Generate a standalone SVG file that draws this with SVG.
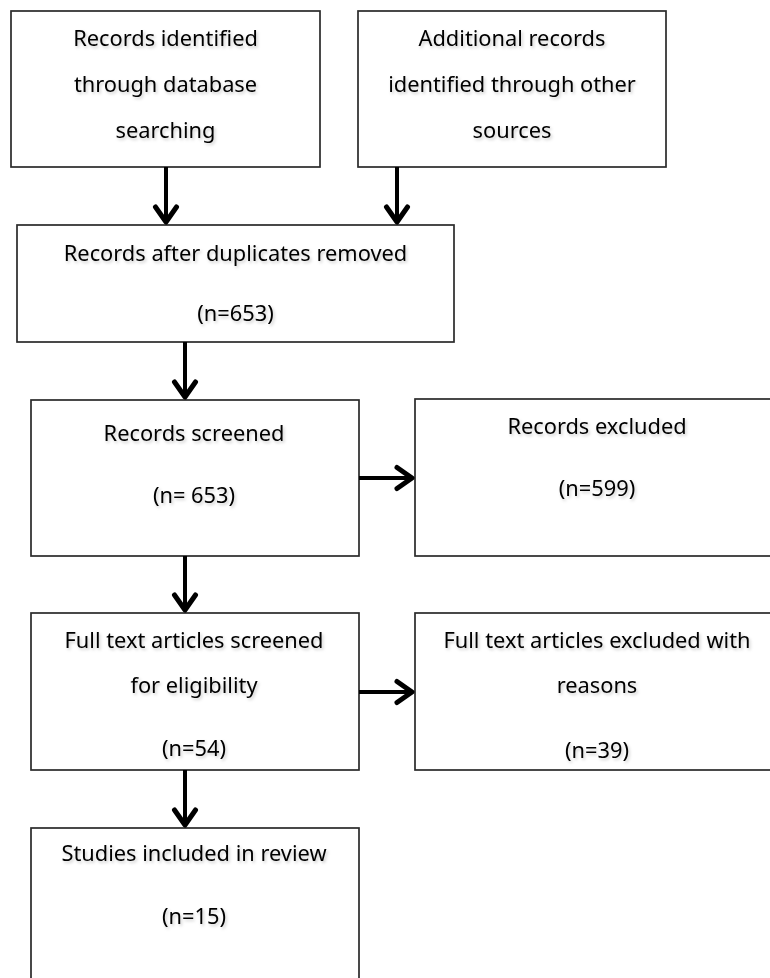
<svg xmlns="http://www.w3.org/2000/svg" width="770" height="978" viewBox="0 0 770 978">
  <style>
    .box { fill: #ffffff; stroke: #2a2a2a; stroke-width: 1.7; }
    .label { font-family: "Noto Sans", "Open Sans", "Liberation Sans", sans-serif; font-size: 21.8px; fill: #000000; text-anchor: middle; filter: url(#soft); }
    .flow { stroke: #000000; stroke-width: 4; fill: none; marker-end: url(#chevron); }
  </style>
  <defs>
    <!-- faint halo under the lettering -->
    <filter id="soft" x="-10%" y="-40%" width="120%" height="180%">
      <feDropShadow dx="1.5" dy="2" stdDeviation="1.4" flood-color="#000000" flood-opacity="0.2"/>
    </filter>
    <!-- open chevron arrowhead -->
    <marker id="chevron" markerUnits="userSpaceOnUse" markerWidth="32" markerHeight="32" viewBox="-22 -16 28 32" refX="0" refY="0" orient="auto">
      <path d="M-15,-10.5 L0,0 L-15,10.5" fill="none" stroke="#000000" stroke-width="5" stroke-linejoin="round" stroke-linecap="round"/>
    </marker>
  </defs>

  <rect width="770" height="978" fill="#ffffff"/>

  <g id="node-database">
    <rect class="box" x="11" y="11" width="309" height="156"/>
    <text class="label" x="165.5" y="46">Records identified</text>
    <text class="label" x="165.5" y="92">through database</text>
    <text class="label" x="165.5" y="138">searching</text>
  </g>

  <g id="node-other-sources">
    <rect class="box" x="358" y="11" width="308" height="156"/>
    <text class="label" x="512" y="46">Additional records</text>
    <text class="label" x="512" y="92">identified through other</text>
    <text class="label" x="512" y="138">sources</text>
  </g>

  <g id="node-deduplicated">
    <rect class="box" x="17" y="225" width="437" height="117"/>
    <text class="label" x="235.5" y="261">Records after duplicates removed</text>
    <text class="label" x="235.5" y="321">(n=653)</text>
  </g>

  <g id="node-screened">
    <rect class="box" x="31" y="400" width="328" height="156"/>
    <text class="label" x="194" y="441">Records screened</text>
    <text class="label" x="194" y="503">(n= 653)</text>
  </g>

  <g id="node-excluded">
    <rect class="box" x="415" y="399" width="364" height="157"/>
    <text class="label" x="597" y="434">Records excluded</text>
    <text class="label" x="597" y="496">(n=599)</text>
  </g>

  <g id="node-fulltext">
    <rect class="box" x="31" y="613" width="328" height="157"/>
    <text class="label" x="194" y="648">Full text articles screened</text>
    <text class="label" x="194" y="693">for eligibility</text>
    <text class="label" x="194" y="756">(n=54)</text>
  </g>

  <g id="node-fulltext-excluded">
    <rect class="box" x="415" y="613" width="364" height="157"/>
    <text class="label" x="597" y="648">Full text articles excluded with</text>
    <text class="label" x="597" y="693">reasons</text>
    <text class="label" x="597" y="758">(n=39)</text>
  </g>

  <g id="node-included">
    <rect class="box" x="31" y="828" width="328" height="170"/>
    <text class="label" x="194" y="861">Studies included in review</text>
    <text class="label" x="194" y="924">(n=15)</text>
  </g>

  <g id="connectors">
    <line class="flow" x1="166" y1="167" x2="166" y2="222"/>
    <line class="flow" x1="397" y1="167" x2="397" y2="222"/>
    <line class="flow" x1="185" y1="342" x2="185" y2="397"/>
    <line class="flow" x1="359" y1="478" x2="412" y2="478"/>
    <line class="flow" x1="185" y1="556" x2="185" y2="610"/>
    <line class="flow" x1="359" y1="692" x2="412" y2="692"/>
    <line class="flow" x1="185" y1="770" x2="185" y2="825"/>
  </g>
</svg>
